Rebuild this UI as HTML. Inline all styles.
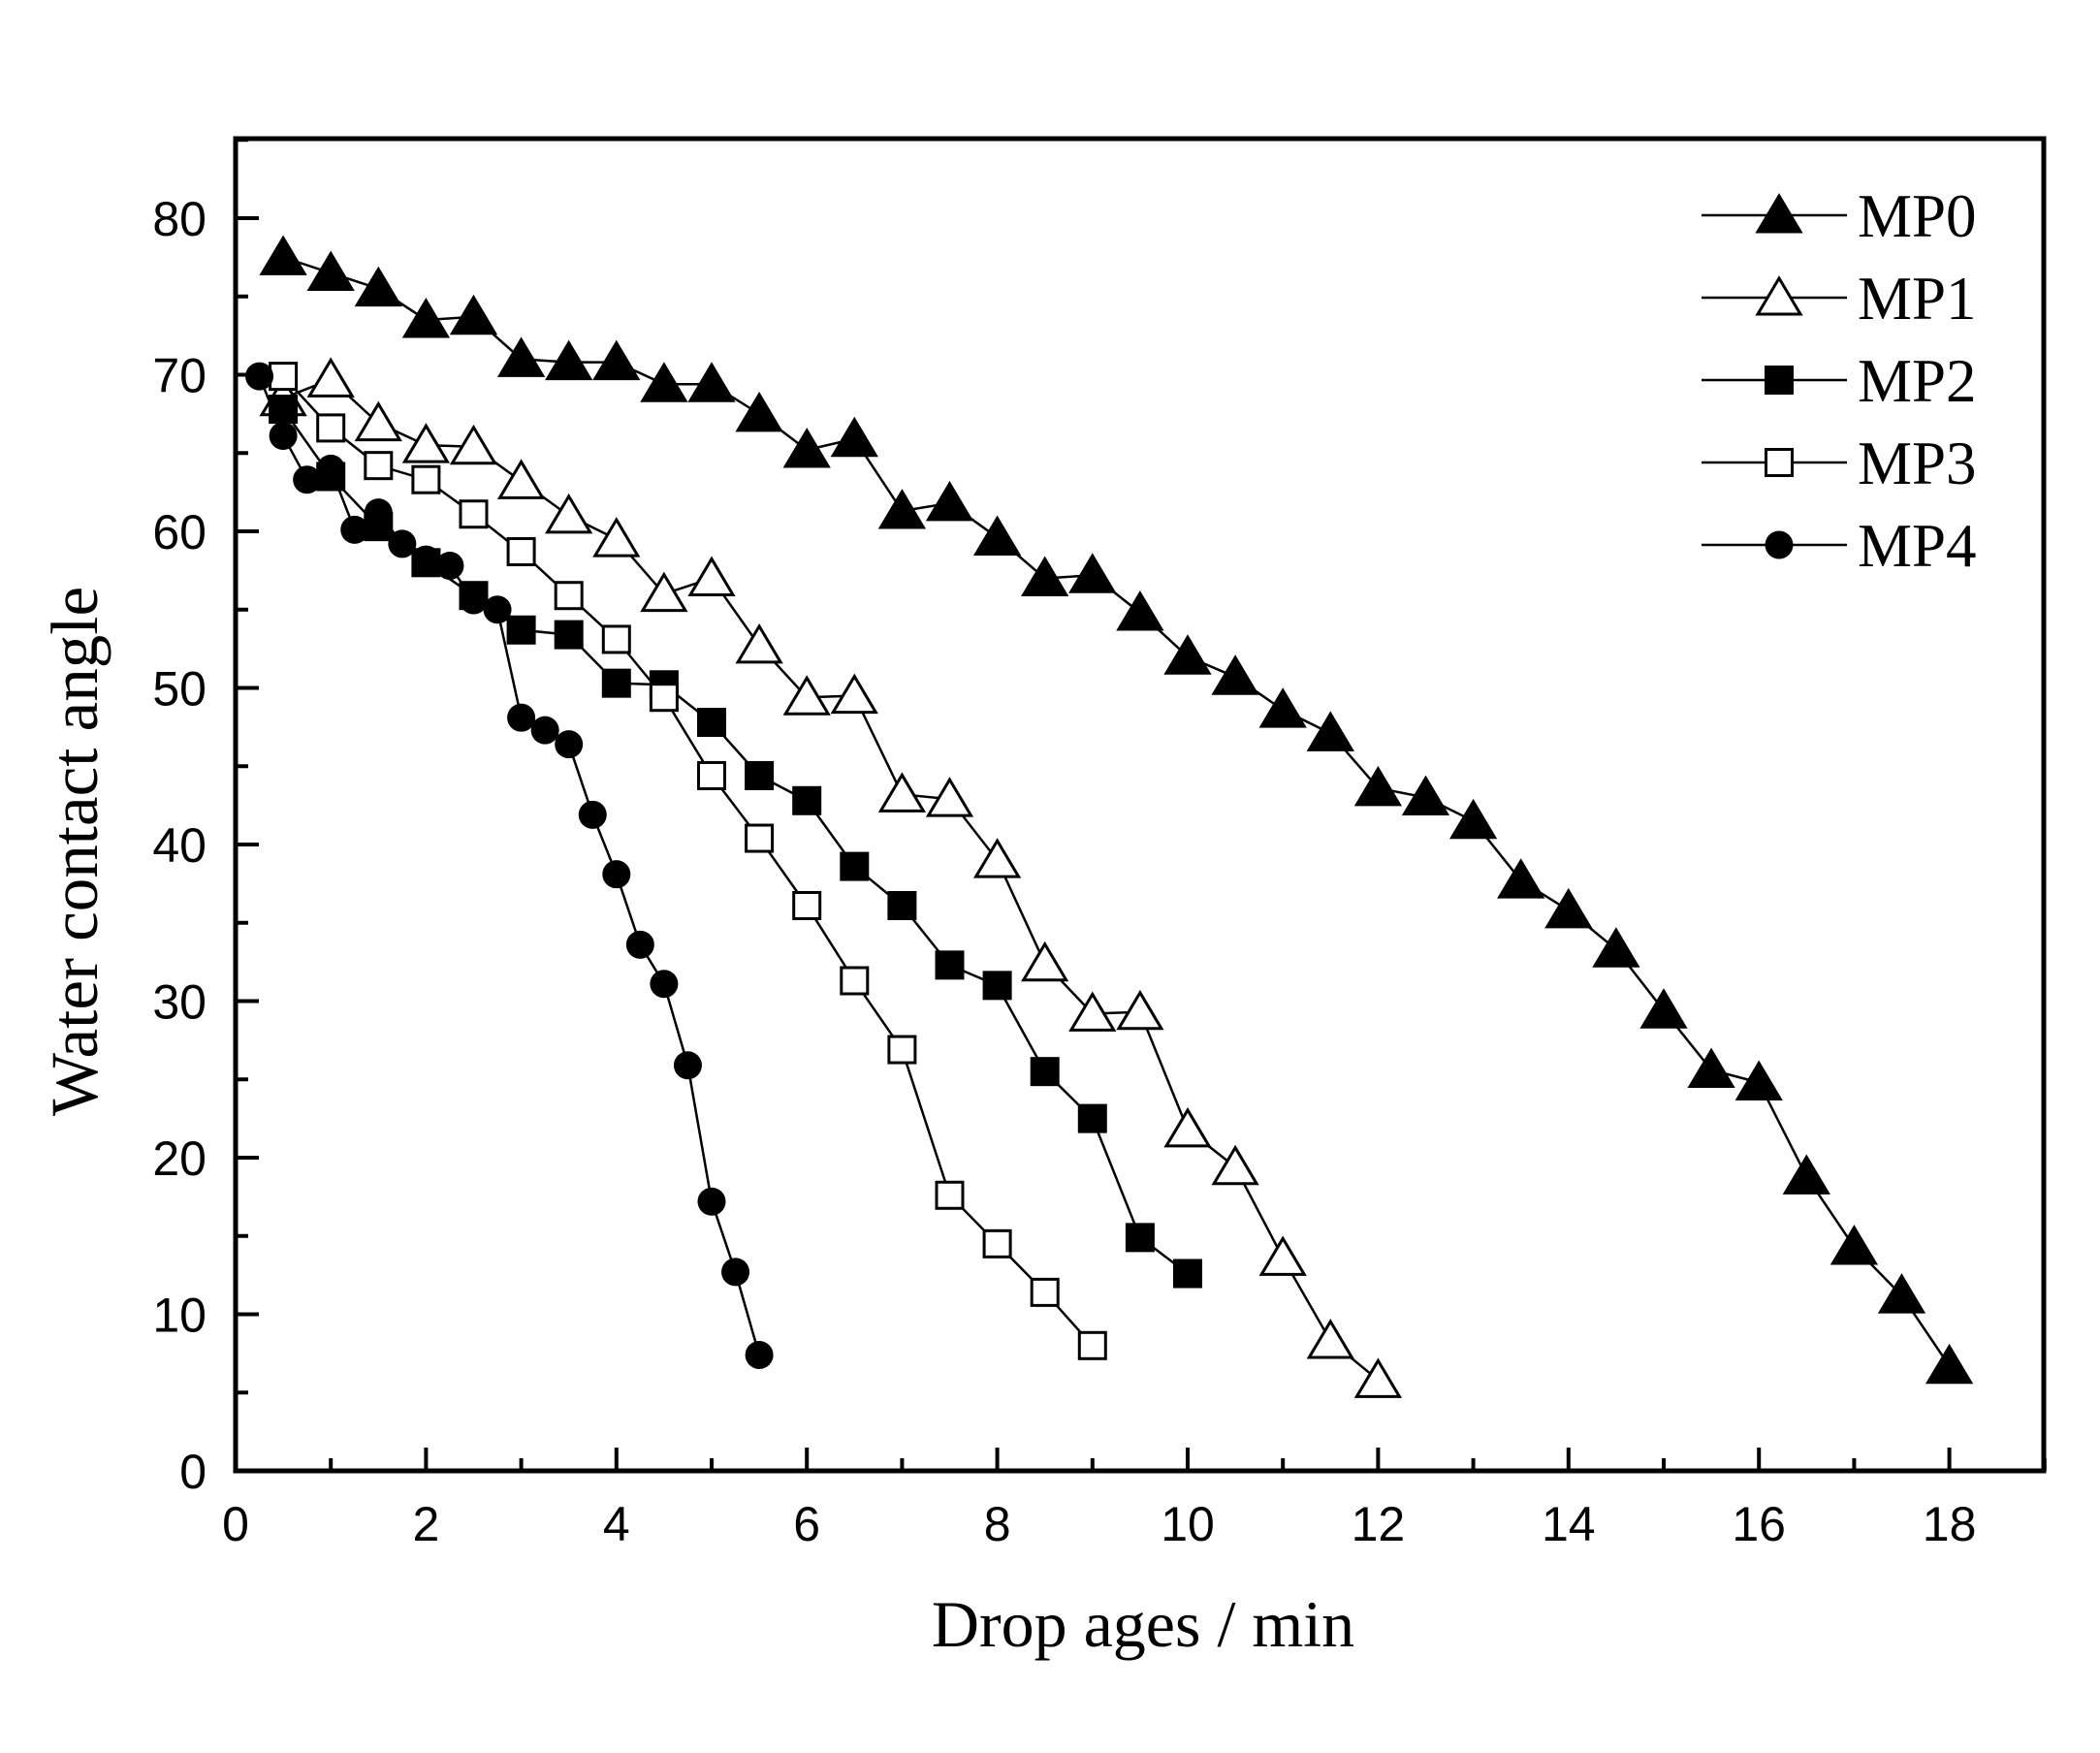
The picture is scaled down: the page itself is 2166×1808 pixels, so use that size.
<!DOCTYPE html>
<html><head><meta charset="utf-8"><style>html,body{margin:0;padding:0;background:#fff}svg{display:block}</style></head>
<body>
<svg id="s" width="2166" height="1808" xmlns="http://www.w3.org/2000/svg"></svg>
<script>
const L=243,R=2108,T=143,B=1517,X0=243,XU=98.2,Y0=1517,YU=16.15;
const X=v=>X0+v*XU, Y=v=>Y0-v*YU;
let h='<rect width="2166" height="1808" fill="#fff"/>';
h+=`<rect x="${L}" y="${T}" width="${R-L}" height="${B-T}" fill="none" stroke="#000" stroke-width="5"/>`;
for(let i=1;i<=19;i++){const x=X(i);h+=`<line x1="${x}" y1="${B}" x2="${x}" y2="${B-(i%2?13:24)}" stroke="#000" stroke-width="4"/>`;
 if(i%2==0&&i<=18)h+=`<text x="${x}" y="${B+72}" font-family="Liberation Sans, sans-serif" font-size="50" text-anchor="middle">${i}</text>`;}
h+=`<text x="${X(0)}" y="${B+72}" font-family="Liberation Sans, sans-serif" font-size="50" text-anchor="middle">0</text>`;
for(let v=0;v<=85;v+=5){const y=Y(v);if(v>0)h+=`<line x1="${L}" y1="${y}" x2="${L+(v%10?13:24)}" y2="${y}" stroke="#000" stroke-width="4"/>`;
 if(v%10==0)h+=`<text x="${L-30}" y="${y+18}" font-family="Liberation Sans, sans-serif" font-size="50" text-anchor="end">${v}</text>`;}
h+=`<text x="1179" y="1698" font-family="Liberation Serif, serif" font-size="68" text-anchor="middle">Drop ages / min</text>`;
h+=`<text transform="translate(100,878) rotate(-90)" font-family="Liberation Serif, serif" font-size="69" text-anchor="middle">Water contact angle</text>`;
function mk(t,x,y){
 if(t=='tf'||t=='to'){const s=20;return `<polygon points="${x},${y-s} ${x+s*1.1},${y+s*0.85} ${x-s*1.1},${y+s*0.85}" fill="${t=='tf'?'#000':'#fff'}" stroke="#000" stroke-width="3"/>`;}
 if(t=='sf'||t=='so'){const s=13.5;return `<rect x="${x-s}" y="${y-s}" width="${2*s}" height="${2*s}" fill="${t=='sf'?'#000':'#fff'}" stroke="#000" stroke-width="3"/>`;}
 return `<circle cx="${x}" cy="${y}" r="14.5" fill="#000"/>`;}
function seq(x0,dx,arr){return arr.map((v,i)=>[x0+i*dx,v]);}
const S=[
['MP0','tf',seq(0.5,0.5,[77.5,76.5,75.5,73.5,73.7,71,70.8,70.8,69.4,69.4,67.5,65.2,65.9,61.3,61.8,59.6,57,57.2,54.8,52,50.7,48.6,47.1,43.6,43,41.5,37.7,35.8,33.3,29.4,25.6,24.8,18.8,14.3,11.2,6.7])],
['MP1','to',seq(0.5,0.5,[68.5,69.7,66.9,65.5,65.4,63.2,61,59.5,56,57,52.7,49.4,49.5,43.2,42.9,39,32.4,29.2,29.3,21.8,19.4,13.6,8.3,5.8])],
['MP2','sf',seq(0.5,0.5,[67.8,63.5,60.3,58,55.9,53.7,53.4,50.3,50.2,47.8,44.4,42.8,38.6,36.1,32.3,31,25.5,22.5,14.9,12.6])],
['MP3','so',seq(0.5,0.5,[69.9,66.6,64.2,63.3,61.1,58.7,55.9,53.1,49.4,44.4,40.4,36.1,31.3,26.9,17.6,14.5,11.4,8])],
['MP4','c',seq(0.25,0.25,[69.9,66.1,63.3,64,60.1,61.2,59.2,58.2,57.8,55.6,55,48.1,47.3,46.4,41.9,38.1,33.6,31.1,25.9,17.2,12.7,7.4])]];
S.forEach((s,k)=>{
 h+=`<polyline points="${s[2].map(p=>X(p[0])+','+Y(p[1])).join(' ')}" fill="none" stroke="#000" stroke-width="2.5"/>`;
 s[2].forEach(p=>h+=mk(s[1],X(p[0]),Y(p[1])));
 const ly=222+k*85;
 h+=`<line x1="1755" y1="${ly}" x2="1905" y2="${ly}" stroke="#000" stroke-width="2.5"/>`+mk(s[1],1835,ly);
 h+=`<text x="1916" y="${ly+22}" font-family="Liberation Serif, serif" font-size="63">${s[0]}</text>`;
});
document.getElementById('s').innerHTML=h;
</script>
</body></html>
